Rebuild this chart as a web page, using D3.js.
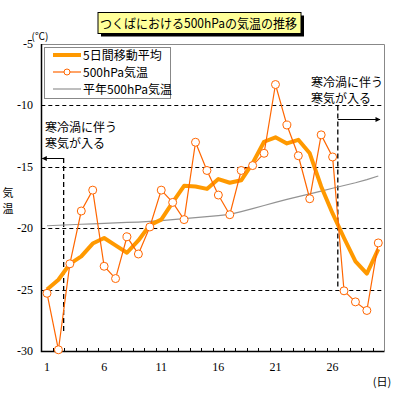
<!DOCTYPE html>
<html>
<head>
<meta charset="utf-8">
<script src="https://cdn.jsdelivr.net/npm/d3@7"></script>
<style>
    body { margin: 0; background: #fff; }
    svg { display: block; }
</style>
</head>
<body>
<svg id="chart" width="399" height="399"></svg>
<script>
// days of the month
const days = d3.range(1, 31);

// daily 500hPa temperature (°C)
const dailyTemp = [
    -25.3, -29.9, -22.9, -18.6, -16.9, -23.1, -24.1, -20.7, -22.1, -19.9,
    -16.9, -17.9, -19.3, -13.0, -15.3, -17.3, -18.9, -15.3, -14.9, -13.9,
    -8.3, -11.6, -14.1, -17.6, -12.4, -14.2, -25.1, -26.0, -26.7, -21.2
];

// 5-day moving average (°C)
const movingAvg = [
    -25.0, -24.2, -22.9, -22.3, -21.25, -20.8, -21.4, -22.0, -21.0, -19.75,
    -19.3, -17.9, -16.55, -16.6, -16.8, -16.0, -16.3, -16.1, -14.7, -12.96,
    -12.6, -13.1, -12.8, -13.9, -16.6, -18.8, -20.8, -22.7, -23.7, -21.7
];

// climatological normal (°C)
const normalTemp = [
    -19.8, -19.76, -19.72, -19.68, -19.64, -19.6, -19.57, -19.53, -19.5, -19.45,
    -19.38, -19.3, -19.22, -19.14, -19.06, -18.98, -18.88, -18.65, -18.4, -18.15,
    -17.9, -17.65, -17.43, -17.2, -16.98, -16.75, -16.52, -16.3, -16.05, -15.75
];

const yTicks = [-30, -25, -20, -15, -10, -5];
const xTickLabels = [1, 6, 11, 16, 21, 26];
const gridValues = [-10, -15, -20, -25];

const titleText = "つくばにおける500hPaの気温の推移";
const legendLabels = ["5日間移動平均", "500hPa気温", "平年500hPa気温"];
const noteLines = ["寒冷渦に伴う", "寒気が入る"];
const yLabelChars = ["気", "温"];

const plotLeft = 41.3, plotRight = 384, plotTop = 44, plotBottom = 351;
const jpFont = "'Noto Sans CJK JP', sans-serif";
const numFont = "'Liberation Serif', serif";

const svg = d3.select("#chart");

const x = d3.scaleLinear().domain([0.5, 30.5]).range([plotLeft, plotRight]);
const y = d3.scaleLinear().domain([-30, -5]).range([plotBottom, plotTop]);

// arrow marker
svg.append("defs").append("marker")
    .attr("id", "arrow")
    .attr("viewBox", "0 0 10 10")
    .attr("refX", 9).attr("refY", 5)
    .attr("markerWidth", 7).attr("markerHeight", 5)
    .attr("markerUnits", "userSpaceOnUse")
    .attr("orient", "auto")
    .append("path").attr("d", "M0,0 L10,5 L0,10 Z").attr("fill", "#000");

// title box with shadow
svg.append("rect").attr("x", 101).attr("y", 15.5).attr("width", 203).attr("height", 21).attr("fill", "#000");
svg.append("rect").attr("x", 98).attr("y", 12.5).attr("width", 203).attr("height", 21)
    .attr("fill", "#FFFF99").attr("stroke", "#000").attr("stroke-width", 1);
svg.append("text")
    .attr("x", 100).attr("y", 28)
    .attr("font-family", jpFont).attr("font-size", 13)
    .attr("textLength", 197).attr("lengthAdjust", "spacingAndGlyphs")
    .text(titleText);

// dashed grid lines
svg.append("g").selectAll("line")
    .data(gridValues)
    .join("line")
    .attr("x1", plotLeft).attr("x2", plotRight)
    .attr("y1", d => Math.round(y(d)) + 0.5).attr("y2", d => Math.round(y(d)) + 0.5)
    .attr("stroke", "#000").attr("stroke-dasharray", "4,3");

// frame: top/right gray, left/bottom black
svg.append("path")
    .attr("d", `M${plotLeft},${plotTop + 0.5} H${plotRight + 0.5} V${plotBottom}`)
    .attr("fill", "none").attr("stroke", "#888");
svg.append("path")
    .attr("d", `M${plotLeft + 0.2},${plotTop} V${plotBottom + 0.5} H${plotRight + 0.5}`)
    .attr("fill", "none").attr("stroke", "#000").attr("stroke-width", 1.5);

// x tick marks at day boundaries
svg.append("g").selectAll("line")
    .data(d3.range(1, 30))
    .join("line")
    .attr("x1", d => Math.round(x(d + 0.5)) + 0.5).attr("x2", d => Math.round(x(d + 0.5)) + 0.5)
    .attr("y1", plotBottom).attr("y2", plotBottom - 3)
    .attr("stroke", "#000");

// x tick labels
svg.append("g").selectAll("text")
    .data(xTickLabels)
    .join("text")
    .attr("x", d => x(d)).attr("y", 371)
    .attr("text-anchor", "middle")
    .attr("font-family", numFont).attr("font-size", 12)
    .text(d => d);

// y tick labels
svg.append("g").selectAll("text")
    .data(yTicks)
    .join("text")
    .attr("x", 33).attr("y", d => y(d) + 4)
    .attr("text-anchor", "end")
    .attr("font-family", numFont).attr("font-size", 12)
    .text(d => d);

// unit labels
svg.append("text").attr("x", 40).attr("y", 40).attr("text-anchor", "middle")
    .attr("font-family", jpFont).attr("font-size", 10).text("(℃)");
svg.append("text").attr("x", 382).attr("y", 386).attr("text-anchor", "middle")
    .attr("font-family", jpFont).attr("font-size", 11).text("(日)");
svg.append("g").selectAll("text")
    .data(yLabelChars)
    .join("text")
    .attr("x", 8).attr("y", (d, i) => 197 + i * 16)
    .attr("text-anchor", "middle")
    .attr("font-family", jpFont).attr("font-size", 11)
    .text(d => d);

// cold intrusion markers
const leftDash = x(2.5) - 0.5, rightDash = x(26.5) - 0.5;
svg.append("line")
    .attr("x1", leftDash).attr("x2", leftDash).attr("y1", 158).attr("y2", 332)
    .attr("stroke", "#000").attr("stroke-width", 1.3).attr("stroke-dasharray", "5,3");
svg.append("line")
    .attr("x1", leftDash).attr("x2", plotLeft + 1).attr("y1", 158.5).attr("y2", 158.5)
    .attr("stroke", "#000").attr("marker-end", "url(#arrow)");
svg.append("line")
    .attr("x1", rightDash).attr("x2", rightDash).attr("y1", y(-10)).attr("y2", y(-25))
    .attr("stroke", "#000").attr("stroke-width", 1.3).attr("stroke-dasharray", "5,3");
svg.append("line")
    .attr("x1", rightDash).attr("x2", 380).attr("y1", 119.5).attr("y2", 119.5)
    .attr("stroke", "#000").attr("marker-end", "url(#arrow)");

svg.append("g").selectAll("text")
    .data(noteLines)
    .join("text")
    .attr("x", 45).attr("y", (d, i) => 132 + i * 16)
    .attr("font-family", jpFont).attr("font-size", 12)
    .text(d => d);
svg.append("g").selectAll("text")
    .data(noteLines)
    .join("text")
    .attr("x", 311).attr("y", (d, i) => 87 + i * 16)
    .attr("font-family", jpFont).attr("font-size", 12)
    .text(d => d);

// series lines
const line = d3.line().x((d, i) => x(days[i])).y(d => y(d));

svg.append("path").datum(normalTemp)
    .attr("d", line).attr("fill", "none")
    .attr("stroke", "#939393").attr("stroke-width", 1.2);

svg.append("path").datum(movingAvg)
    .attr("d", line).attr("fill", "none")
    .attr("stroke", "#FF9900").attr("stroke-width", 4).attr("stroke-linejoin", "round");

svg.append("path").datum(dailyTemp)
    .attr("d", line).attr("fill", "none")
    .attr("stroke", "#FF6600").attr("stroke-width", 1.2);

svg.append("g").selectAll("circle")
    .data(dailyTemp)
    .join("circle")
    .attr("cx", (d, i) => x(days[i])).attr("cy", d => y(d))
    .attr("r", 4)
    .attr("fill", "#fff").attr("stroke", "#FF6600").attr("stroke-width", 1);

// legend
const legend = svg.append("g");
legend.append("rect").attr("x", 44.5).attr("y", 47.5).attr("width", 126).attr("height", 51)
    .attr("fill", "#fff").attr("stroke", "#888");
legend.append("line").attr("x1", 53).attr("x2", 81).attr("y1", 55).attr("y2", 55)
    .attr("stroke", "#FF9900").attr("stroke-width", 4);
legend.append("line").attr("x1", 53).attr("x2", 81).attr("y1", 72).attr("y2", 72)
    .attr("stroke", "#FF6600").attr("stroke-width", 1.2);
legend.append("circle").attr("cx", 67).attr("cy", 72).attr("r", 3)
    .attr("fill", "#fff").attr("stroke", "#FF6600");
legend.append("line").attr("x1", 53).attr("x2", 81).attr("y1", 89).attr("y2", 89)
    .attr("stroke", "#939393").attr("stroke-width", 1.2);
legend.selectAll("text.lbl")
    .data(legendLabels)
    .join("text")
    .attr("class", "lbl")
    .attr("x", 83).attr("y", (d, i) => 59.5 + i * 17)
    .attr("font-family", jpFont).attr("font-size", 12)
    .text(d => d);
</script>
</body>
</html>
